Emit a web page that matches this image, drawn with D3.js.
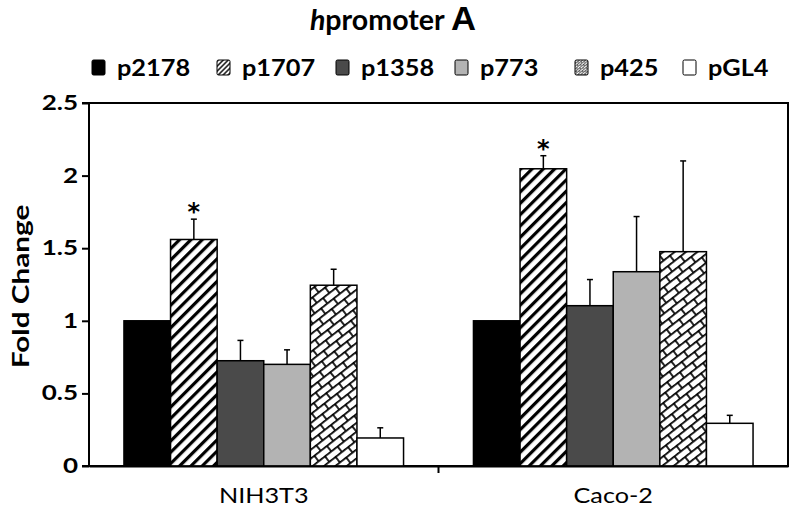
<!DOCTYPE html>
<html><head><meta charset="utf-8">
<script src="https://cdn.jsdelivr.net/npm/d3@7"></script>
<style>body{margin:0;background:#fff}svg{display:block}text{font-family:Lato,"Open Sans",sans-serif;font-weight:bold}</style>
</head><body><svg id="c" width="792" height="509"></svg>
<script>
const categories = ["NIH3T3", "Caco-2"];
const seriesNames = ["p2178", "p1707", "p1358", "p773", "p425", "pGL4"];
const means = {
  "NIH3T3": [1.0, 1.56, 0.725, 0.70, 1.245, 0.193],
  "Caco-2": [1.0, 2.047, 1.104, 1.338, 1.476, 0.294]
};
const errors = {
  "NIH3T3": [0, 0.14, 0.14, 0.10, 0.11, 0.07],
  "Caco-2": [0, 0.09, 0.18, 0.38, 0.625, 0.055]
};
const significant = {"NIH3T3": [1], "Caco-2": [1]};
const yTicks = [0, 0.5, 1, 1.5, 2, 2.5];
const fills = ["#000000", "url(#hatch)", "#4a4a4a", "#b3b3b3", "url(#brick)", "#ffffff"];

function stretch(sel, sx) {
  sel.each(function() {
    const L = this.getComputedTextLength();
    this.setAttribute("textLength", L * sx);
    this.setAttribute("lengthAdjust", "spacingAndGlyphs");
  });
}

const svg = d3.select("#c");
const defs = svg.append("defs");
const hatch = defs.append("pattern").attr("id","hatch").attr("patternUnits","userSpaceOnUse")
  .attr("width",8).attr("height",8).attr("patternTransform","rotate(45)");
hatch.append("rect").attr("width",8).attr("height",8).attr("fill","#fff");
hatch.append("rect").attr("x",0).attr("y",0).attr("width",3.2).attr("height",8).attr("fill","#000");
const brick = defs.append("pattern").attr("id","brick").attr("patternUnits","userSpaceOnUse")
  .attr("width",16).attr("height",14).attr("patternTransform","rotate(-38)");
brick.append("rect").attr("width",16).attr("height",14).attr("fill","#fff");
brick.append("path").attr("d","M0,0.8H16M0,7.8H16M1,0V7M9,7V14").attr("stroke","#000").attr("stroke-width",1.7).attr("fill","none");
const hatchS = defs.append("pattern").attr("id","hatchS").attr("patternUnits","userSpaceOnUse")
  .attr("width",3.5).attr("height",3.5).attr("patternTransform","rotate(45)");
hatchS.append("rect").attr("width",3.5).attr("height",3.5).attr("fill","#fff");
hatchS.append("rect").attr("width",1.6).attr("height",3.5).attr("fill","#222");
const brickS = defs.append("pattern").attr("id","brickS").attr("patternUnits","userSpaceOnUse")
  .attr("width",5).attr("height",4).attr("patternTransform","rotate(-40)");
brickS.append("rect").attr("width",5).attr("height",4).attr("fill","#fff");
brickS.append("path").attr("d","M0,0.4H5M0,2.4H5M0.5,0V2M3,2V4").attr("stroke","#333").attr("stroke-width",0.8).attr("fill","none");
const legendFills = ["#000000", "url(#hatchS)", "#4a4a4a", "#b3b3b3", "url(#brickS)", "#ffffff"];

const pL = 89, pR = 788, pT = 103, pB = 466;
const y = d3.scaleLinear().domain([0, 2.5]).range([pB, pT]);
const x0 = d3.scaleBand().domain(categories).range([pL, pR]).padding(0);
const x1 = d3.scaleBand().domain(seriesNames).range([x0.bandwidth()*0.1, x0.bandwidth()*0.9]).padding(0);

svg.append("rect").attr("x",pL).attr("y",pT).attr("width",pR-pL).attr("height",pB-pT)
  .attr("fill","none").attr("stroke","#000").attr("stroke-width",2);

categories.forEach(cat => {
  const g = svg.append("g").attr("transform",`translate(${x0(cat)},0)`);
  seriesNames.forEach((s,i) => {
    const v = means[cat][i], e = errors[cat][i];
    const bx = x1(s), bw = x1.bandwidth();
    if (e > 0) {
      const cx = bx + bw/2;
      g.append("line").attr("x1",cx).attr("x2",cx).attr("y1",y(v)).attr("y2",y(v+e)).attr("stroke","#000").attr("stroke-width",1.5);
      g.append("line").attr("x1",cx-3).attr("x2",cx+3).attr("y1",y(v+e)).attr("y2",y(v+e)).attr("stroke","#000").attr("stroke-width",1.5);
    }
    g.append("rect").attr("x",bx).attr("y",y(v)).attr("width",bw).attr("height",y(0)-y(v))
      .attr("fill",fills[i]).attr("stroke","#000").attr("stroke-width",1.5);
    if (significant[cat].includes(i)) {
      g.append("text").attr("x",bx+bw/2).attr("y",y(v+e)+1).attr("text-anchor","middle")
        .attr("font-size",24).style("font-family","DejaVu Sans").text("*");
    }
  });
});

const yAxis = d3.axisLeft(y).tickValues(yTicks).tickSize(7).tickPadding(4).tickFormat(d => String(d));
const ya = svg.append("g").attr("transform",`translate(${pL},0)`).call(yAxis);
ya.select(".domain").attr("stroke-width",2).attr("d",`M-7,${pT}H0V${pB}H-7`);
ya.selectAll(".tick line").attr("stroke-width",2);
ya.selectAll(".tick text").attr("font-size",20).attr("fill","#000").style("font-family","Lato");
stretch(ya.selectAll(".tick text"), 1.3);

const xAxis = d3.axisBottom(x0).tickSize(0).tickPadding(22);
const xa = svg.append("g").attr("transform",`translate(0,${pB})`).call(xAxis);
xa.select(".domain").attr("stroke-width",2);
xa.selectAll(".tick text").attr("font-size",21).style("font-weight","normal").attr("fill","#000").style("font-family","Lato");
stretch(xa.selectAll(".tick text"), 1.2);
svg.append("g").selectAll("line").data(categories.slice(1)).join("line")
  .attr("x1",d=>x0(d)).attr("x2",d=>x0(d)).attr("y1",pB).attr("y2",pB+7).attr("stroke","#000").attr("stroke-width",2);

const yl = svg.append("text").attr("transform",`translate(29,${(pT+pB)/2+2}) rotate(-90)`).attr("text-anchor","middle")
  .attr("font-size",22).text("Fold Change");
stretch(yl, 1.35);

const t = svg.append("text").attr("x",393).attr("y",30).attr("text-anchor","middle").attr("font-size",28);
t.append("tspan").style("font-style","italic").text("h");
t.append("tspan").text("promoter ");
t.append("tspan").attr("font-size",34).style("font-family","'Liberation Sans'").text("A");
stretch(t, 1.02);

const legX = [92, 217, 336, 455, 575, 683];
const lg = svg.append("g");
seriesNames.forEach((s,i) => {
  lg.append("rect").attr("x",legX[i]).attr("y",60).attr("width",13).attr("height",15).attr("rx",1.5)
    .attr("fill",legendFills[i]).attr("stroke","#000").attr("stroke-width",1);
  const tx = lg.append("text").attr("x",legX[i]+25).attr("y",76).attr("font-size",22).text(s);
  stretch(tx, 1.15);
});
</script></body></html>
